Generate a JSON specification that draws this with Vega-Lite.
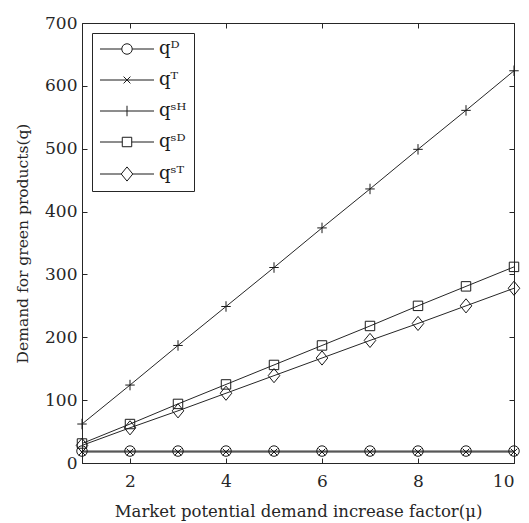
{
  "$schema": "https://vega.github.io/schema/vega-lite/v6.json",
  "width": 432,
  "height": 440,
  "autosize": {"type": "none"},
  "padding": {"left": 82, "top": 23, "right": 15, "bottom": 60},
  "background": "white",
  "config": {
    "view": {"stroke": "#262626", "strokeWidth": 1},
    "font": "DejaVu Serif",
    "axis": {
      "labelFont": "DejaVu Serif",
      "titleFont": "DejaVu Serif",
      "labelFontSize": 17,
      "titleFontSize": 16.5,
      "titleFontWeight": "normal",
      "labelColor": "#262626",
      "titleColor": "#262626",
      "domainColor": "#262626",
      "tickColor": "#262626",
      "tickSize": -5,
      "grid": false
    }
  },
  "data": {
    "values": [
      {"mu": 1, "series": "D", "q": 19}, {"mu": 2, "series": "D", "q": 19}, {"mu": 3, "series": "D", "q": 19}, {"mu": 4, "series": "D", "q": 19}, {"mu": 5, "series": "D", "q": 19},
      {"mu": 6, "series": "D", "q": 19}, {"mu": 7, "series": "D", "q": 19}, {"mu": 8, "series": "D", "q": 19}, {"mu": 9, "series": "D", "q": 19}, {"mu": 10, "series": "D", "q": 19},
      {"mu": 1, "series": "T", "q": 17.5}, {"mu": 2, "series": "T", "q": 17.5}, {"mu": 3, "series": "T", "q": 17.5}, {"mu": 4, "series": "T", "q": 17.5}, {"mu": 5, "series": "T", "q": 17.5},
      {"mu": 6, "series": "T", "q": 17.5}, {"mu": 7, "series": "T", "q": 17.5}, {"mu": 8, "series": "T", "q": 17.5}, {"mu": 9, "series": "T", "q": 17.5}, {"mu": 10, "series": "T", "q": 17.5},
      {"mu": 1, "series": "SH", "q": 62}, {"mu": 2, "series": "SH", "q": 124}, {"mu": 3, "series": "SH", "q": 187}, {"mu": 4, "series": "SH", "q": 249}, {"mu": 5, "series": "SH", "q": 311},
      {"mu": 6, "series": "SH", "q": 374}, {"mu": 7, "series": "SH", "q": 436}, {"mu": 8, "series": "SH", "q": 499}, {"mu": 9, "series": "SH", "q": 561}, {"mu": 10, "series": "SH", "q": 624},
      {"mu": 1, "series": "SD", "q": 31}, {"mu": 2, "series": "SD", "q": 62}, {"mu": 3, "series": "SD", "q": 94}, {"mu": 4, "series": "SD", "q": 125}, {"mu": 5, "series": "SD", "q": 156},
      {"mu": 6, "series": "SD", "q": 187}, {"mu": 7, "series": "SD", "q": 218}, {"mu": 8, "series": "SD", "q": 250}, {"mu": 9, "series": "SD", "q": 281}, {"mu": 10, "series": "SD", "q": 312},
      {"mu": 1, "series": "ST", "q": 28}, {"mu": 2, "series": "ST", "q": 56}, {"mu": 3, "series": "ST", "q": 83}, {"mu": 4, "series": "ST", "q": 111}, {"mu": 5, "series": "ST", "q": 139},
      {"mu": 6, "series": "ST", "q": 167}, {"mu": 7, "series": "ST", "q": 195}, {"mu": 8, "series": "ST", "q": 222}, {"mu": 9, "series": "ST", "q": 250}, {"mu": 10, "series": "ST", "q": 278}
    ]
  },
  "resolve": {"scale": {"shape": "independent"}, "axis": {"x": "independent", "y": "independent"}},
  "layer": [
    {
      "mark": {"type": "line", "color": "#262626", "strokeWidth": 1},
      "encoding": {
        "x": {"field": "mu", "type": "quantitative", "scale": {"domain": [1, 10], "nice": false, "zero": false},
              "axis": {"orient": "bottom", "values": [2, 4, 6, 8, 10], "title": "Market potential demand increase factor(μ)", "labelPadding": 15, "titlePadding": 14, "titleFontSize": 16.5}},
        "y": {"field": "q", "type": "quantitative", "scale": {"domain": [0, 700], "nice": false},
              "axis": {"orient": "left", "values": [0, 100, 200, 300, 400, 500, 600, 700], "title": "Demand for green products(q)", "labelPadding": 10, "titlePadding": 14, "titleFontSize": 15.5}},
        "detail": {"field": "series"}
      }
    },
    {
      "mark": {"type": "point", "filled": false, "color": "#1a1a1a", "strokeWidth": 1, "size": 110, "opacity": 1},
      "encoding": {
        "x": {"field": "mu", "type": "quantitative", "axis": null},
        "y": {"field": "q", "type": "quantitative", "axis": null},
        "shape": {"field": "series", "type": "nominal", "legend": null,
                  "scale": {"domain": ["D", "T", "SH", "SD", "ST"],
                            "range": ["circle", "M-0.65,-0.65L0.65,0.65M-0.65,0.65L0.65,-0.65", "M-0.9,0H0.9M0,-1V1", "M-0.9,-0.9H0.9V0.9H-0.9Z", "M0,-1.35L1.1,0L0,1.35L-1.1,0Z"]}}
      }
    },
    {
      "mark": {"type": "point", "filled": false, "color": "#1a1a1a", "strokeWidth": 1, "size": 110, "opacity": 0},
      "encoding": {
        "x": {"field": "mu", "type": "quantitative", "axis": {"orient": "top", "values": [2, 4, 6, 8, 10], "labels": false, "title": null, "domain": false}},
        "y": {"field": "q", "type": "quantitative", "axis": {"orient": "right", "values": [0, 100, 200, 300, 400, 500, 600, 700], "labels": false, "title": null, "domain": false}},
        "shape": {"field": "series", "type": "nominal",
                  "scale": {"domain": ["D", "T", "SH", "SD", "ST"],
                            "range": [
                              "M-5.15,0H-1M1,0H5.15M-1,0A1,1,0,1,0,1,0A1,1,0,1,0,-1,0",
                              "M-5.15,0H5.15M-0.65,-0.65L0.65,0.65M-0.65,0.65L0.65,-0.65",
                              "M-5.15,0H5.15M0,-1V1",
                              "M-5.15,0H-0.9M0.9,0H5.15M-0.9,-0.9H0.9V0.9H-0.9Z",
                              "M-5.15,0H-1.1M1.1,0H5.15M0,-1.35L1.1,0L0,1.35L-1.1,0Z"
                            ]},
                  "legend": {
                    "title": null,
                    "orient": "top-left",
                    "offset": 10,
                    "padding": 7,
                    "strokeColor": "#262626",
                    "fillColor": "white",
                    "cornerRadius": 0,
                    "symbolOpacity": 1,
                    "symbolSize": 110,
                    "symbolStrokeColor": "#1a1a1a",
                    "symbolFillColor": "transparent",
                    "symbolStrokeWidth": 1,
                    "symbolOffset": 19,
                    "labelOffset": 23,
                    "labelFont": "DejaVu Serif",
                    "labelFontSize": 18,
                    "labelColor": "#1a1a1a",
                    "rowPadding": 13,
                    "labelExpr": "datum.label == 'D' ? 'qᴰ' : datum.label == 'T' ? 'qᵀ' : datum.label == 'SH' ? 'qˢᴴ' : datum.label == 'SD' ? 'qˢᴰ' : 'qˢᵀ'"
                  }}
      }
    }
  ]
}
